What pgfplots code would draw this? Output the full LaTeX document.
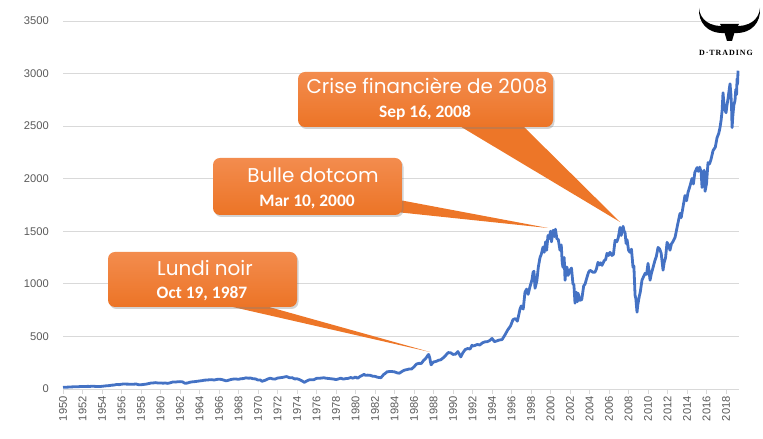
\documentclass[border=0pt]{standalone}
\usepackage{fontspec}
\setmainfont{Carlito}
\newfontfamily\pop{Poppins}
\newfontfamily\tickfont{Liberation Sans}
\newfontfamily\logofont{Liberation Serif}[LetterSpace=12.0]
\usepackage{pgfplots}
\pgfplotsset{compat=1.18}
\usetikzlibrary{shadows}
\definecolor{lineblue}{RGB}{68,114,196}
\definecolor{gridgray}{RGB}{217,217,217}
\definecolor{labelgray}{RGB}{89,89,89}
\definecolor{orTop}{RGB}{243,140,78}
\definecolor{orBot}{RGB}{236,116,38}
\definecolor{orPt}{RGB}{237,118,40}
\begin{document}
\begin{tikzpicture}
\useasboundingbox (0,0) rectangle (763bp,439bp);
\begin{axis}[
 at={(63bp,50bp)}, anchor=south west, scale only axis,
 width=676bp, height=368bp,
 xmin=1950, xmax=2019.33, ymin=0, ymax=3500,
 ytick={0,500,...,3500}, xtick={1950,1952,...,2018},
 ymajorgrids, grid style={draw=gridgray, line width=0.8bp},
 axis line style={draw=none},
 x tick style={draw=gridgray, line width=0.8bp},
 tick align=outside, major tick length=5bp, xtick pos=bottom,
 y tick style={draw=none}, ytick pos=left,
 ticklabel style={font=\tickfont\fontsize{11.2}{13}\selectfont, text=labelgray},
 xticklabel style={rotate=90, anchor=east, inner sep=2bp},
 yticklabel style={inner sep=0pt, xshift=-9bp},
 clip=false,
 /pgf/number format/.cd, 1000 sep={}, assume math mode=true,
]
\addplot[lineblue, line width=2.8bp, line join=round] coordinates {
(1950.0,16.9)(1950.25,17.3)(1950.5,17.7)(1950.75,19.5)
(1951.0,20.4)(1951.25,21.7)(1951.5,21.0)(1951.75,23.3)
(1952.0,23.8)(1952.25,23.8)(1952.5,25.0)(1952.75,24.5)
(1953.0,26.4)(1953.25,25.0)(1953.5,24.1)(1953.75,23.4)
(1954.0,25.5)(1954.25,28.3)(1954.5,30.9)(1954.75,32.3)
(1955.0,36.6)(1955.25,37.3)(1955.5,43.5)(1955.75,41.2)
(1956.0,45.5)(1956.25,48.0)(1956.5,46.5)(1956.75,46.0)
(1957.0,45.5)(1957.25,45.7)(1957.5,47.4)(1957.75,41.0)
(1958.0,40.3)(1958.25,43.4)(1958.5,45.8)(1958.75,51.0)
(1959.0,56.0)(1959.25,57.6)(1959.5,60.5)(1959.75,56.9)
(1960.0,58.0)(1960.25,55.3)(1960.5,57.0)(1960.75,53.5)
(1961.0,59.4)(1961.25,66.0)(1961.5,65.6)(1961.75,68.7)
(1962.0,70.0)(1962.25,68.0)(1962.5,54.8)(1962.75,56.3)
(1963.0,64.0)(1963.25,68.0)(1963.5,70.0)(1963.75,73.0)
(1964.0,76.5)(1964.25,79.5)(1964.5,84.0)(1964.75,85.0)
(1965.0,87.5)(1965.25,89.0)(1965.5,85.0)(1965.75,91.0)
(1966.0,93.0)(1966.25,91.0)(1966.5,84.0)(1966.75,77.0)
(1967.0,84.5)(1967.25,91.0)(1967.5,94.5)(1967.75,95.0)
(1968.0,92.0)(1968.25,98.0)(1968.5,99.0)(1968.75,106.0)
(1969.0,103.0)(1969.25,104.0)(1969.5,97.0)(1969.75,96.0)
(1970.0,85.0)(1970.25,86.0)(1970.4,72.7)(1970.75,84.0)
(1971.0,95.0)(1971.25,103.0)(1971.5,96.0)(1971.75,94.0)
(1972.0,104.0)(1972.25,107.0)(1972.5,110.0)(1972.9,118.0)
(1973.0,116.0)(1973.25,106.0)(1973.5,108.0)(1973.75,96.0)
(1974.0,97.0)(1974.25,90.0)(1974.5,78.0)(1974.75,63.5)
(1975.0,76.0)(1975.25,87.0)(1975.5,88.0)(1975.75,89.0)
(1976.0,101.0)(1976.25,102.0)(1976.5,104.0)(1976.75,107.0)
(1977.0,102.0)(1977.25,100.0)(1977.5,97.0)(1977.75,95.0)
(1978.0,89.0)(1978.25,96.0)(1978.5,103.0)(1978.75,94.0)
(1979.0,99.0)(1979.25,101.0)(1979.5,109.0)(1979.75,103.0)
(1980.0,114.0)(1980.2,102.0)(1980.5,121.0)(1980.9,140.0)
(1981.0,130.0)(1981.25,132.0)(1981.5,130.0)(1981.75,122.0)
(1982.0,120.0)(1982.25,112.0)(1982.6,107.0)(1982.9,139.0)
(1983.0,145.0)(1983.25,164.0)(1983.5,166.0)(1983.75,166.0)
(1984.0,163.0)(1984.25,154.0)(1984.5,150.0)(1984.75,166.0)
(1985.0,179.0)(1985.25,184.0)(1985.5,190.0)(1985.75,190.0)
(1986.0,211.0)(1986.25,237.0)(1986.5,244.0)(1986.75,243.0)
(1987.0,274.0)(1987.2,290.0)(1987.4,318.0)(1987.5,329.0)
(1987.6,300.0)(1987.75,230.0)(1987.9,246.0)
(1988.0,257.0)(1988.25,262.0)(1988.5,273.0)(1988.75,278.0)
(1989.0,297.0)(1989.25,320.0)(1989.5,346.0)(1989.75,345.0)
(1990.0,329.0)(1990.25,331.0)(1990.5,356.0)(1990.8,305.0)
(1991.0,343.0)(1991.25,375.0)(1991.5,385.0)(1991.75,380.0)(1991.95,417.0)
(1992.0,408.0)(1992.25,414.0)(1992.5,424.0)(1992.75,418.0)
(1993.0,438.0)(1993.25,448.0)(1993.5,450.0)(1993.75,460.0)
(1994.0,481.0)(1994.25,450.0)(1994.5,458.0)(1994.75,466.0)
(1995.03,470)(1995.3,510)(1995.6,560)(1995.9,600)
(1996.15,660)(1996.4,670)(1996.6,645)(1996.87,760)
(1997.0,790)(1997.2,760)(1997.38,920)(1997.55,950)(1997.7,900)(1997.9,975)
(1998.1,1040)(1998.21,1110)(1998.3,1120)(1998.41,958)(1998.6,1030)(1998.75,1160)(1998.92,1250)
(1999.05,1280)(1999.23,1350)(1999.35,1300)(1999.5,1400)(1999.6,1320)(1999.74,1460)(1999.85,1430)
(2000.0,1500)(2000.1,1400)(2000.26,1510)(2000.4,1450)(2000.5,1520)(2000.65,1430)(2000.8,1420)(2000.97,1320)
(2001.1,1370)(2001.2,1200)(2001.28,1157)(2001.4,1250)(2001.49,1034)(2001.6,1160)(2001.69,1157)(2001.8,1080)
(2002.0,1130)(2002.15,1150)(2002.3,1000)(2002.4,990)(2002.51,816)(2002.65,920)(2002.75,830)(2002.82,911)(2002.95,870)
(2003.03,844)(2003.2,850)(2003.4,980)(2003.55,1000)(2003.74,1063)(2003.9,1110)
(2004.05,1129)(2004.2,1120)(2004.36,1110)(2004.55,1110)(2004.7,1140)(2004.87,1205)
(2005.0,1180)(2005.15,1200)(2005.28,1176)(2005.5,1220)(2005.65,1230)(2005.79,1290)(2005.95,1270)
(2006.1,1300)(2006.3,1270)(2006.45,1280)(2006.62,1414)(2006.8,1400)(2006.95,1440)
(2007.13,1537)(2007.25,1460)(2007.44,1547)(2007.55,1500)(2007.64,1490)(2007.75,1385)(2007.85,1420)
(2008.0,1320)(2008.15,1300)(2008.3,1330)(2008.46,1157)(2008.55,1170)(2008.67,892)(2008.75,860)(2008.87,730)(2008.95,800)
(2009.1,880)(2009.2,920)(2009.38,1035)(2009.5,1060)(2009.7,1100)(2009.85,1090)
(2010.0,1195)(2010.21,1035)(2010.35,1100)(2010.5,1150)(2010.7,1220)(2010.85,1260)
(2011.03,1347)(2011.2,1330)(2011.35,1290)(2011.54,1130)(2011.65,1200)(2011.8,1250)(2011.95,1395)
(2012.1,1370)(2012.25,1320)(2012.4,1380)(2012.55,1400)(2012.77,1442)(2012.9,1500)
(2013.05,1570)(2013.28,1670)(2013.4,1630)(2013.55,1710)(2013.79,1840)(2013.95,1790)
(2014.1,1870)(2014.3,1930)(2014.51,2002)(2014.65,1950)(2014.8,2060)
(2015.03,2106)(2015.15,2070)(2015.3,2110)(2015.45,2060)(2015.54,1917)(2015.65,2050)(2015.75,2080)(2015.85,1880)
(2016.0,1955)(2016.15,2153)(2016.3,2140)(2016.45,2180)(2016.67,2268)(2016.9,2300)
(2017.08,2391)(2017.25,2430)(2017.38,2486)(2017.5,2560)(2017.6,2650)(2017.69,2818)(2017.8,2700)(2017.9,2650)
(2018.0,2628)(2018.1,2700)(2018.2,2760)(2018.3,2830)(2018.41,2903)(2018.5,2800)(2018.56,2700)(2018.62,2486)
(2018.7,2600)(2018.8,2700)(2018.92,2742)(2019.0,2850)(2019.08,2800)(2019.13,2951)(2019.18,2900)(2019.23,3027)
};
\end{axis}
\begin{scope}[x=1bp,y=-1bp,shift={(0bp,439bp)}]
 % pointers
 \fill[orPt] (224,305) -- (262,305) -- (430,352) -- cycle;
 \fill[orPt] (394,199) -- (396,212) -- (548,228) -- cycle;
 \fill[orPt] (458,125) -- (522,125) -- (620,222) -- cycle;
 % boxes
 \path[drop shadow={opacity=0.35,shadow xshift=1.5bp,shadow yshift=-2bp},
   top color=orTop, bottom color=orBot, rounded corners=7bp] (108,252) rectangle (297,307);
 \path[drop shadow={opacity=0.35,shadow xshift=1.5bp,shadow yshift=-2bp},
   top color=orTop, bottom color=orBot, rounded corners=7bp] (213,158) rectangle (402,215);
 \path[drop shadow={opacity=0.35,shadow xshift=1.5bp,shadow yshift=-2bp},
   top color=orTop, bottom color=orBot, rounded corners=7bp] (298,72) rectangle (553,127);
 % texts
 \node[text=white, font=\pop\fontsize{20}{22}\selectfont] at (205,268) {Lundi noir};
 \node[text=white, font=\bfseries\fontsize{17.5}{20}\selectfont] at (202,294) {Oct 19, 1987};
 \node[text=white, font=\pop\fontsize{20}{22}\selectfont] at (313,175) {Bulle dotcom};
 \node[text=white, font=\bfseries\fontsize{17.5}{20}\selectfont] at (307,202) {Mar 10, 2000};
 \node[text=white, font=\pop\fontsize{20}{22}\selectfont] at (427,86) {Crise financière de 2008};
 \node[text=white, font=\bfseries\fontsize{17.5}{20}\selectfont] at (425,113) {Sep 16, 2008};
 % logo
 \fill[black] (699,8) .. controls (700,20) and (710,27) .. (725,26) -- (725,33) .. controls (707,34) and (698,22) .. cycle;
 \fill[black] (760,8) .. controls (759,20) and (749,27) .. (734,26) -- (734,33) .. controls (752,34) and (761,22) .. cycle;
 \fill[black] (720,24) -- (739,24) -- (735,31) -- (732,41) -- (727,41) -- (724,31) -- cycle;
 \node[font=\logofont\bfseries\fontsize{8}{9}\selectfont] at (726,53) {D·TRADING};
\end{scope}
\end{tikzpicture}
\end{document}
